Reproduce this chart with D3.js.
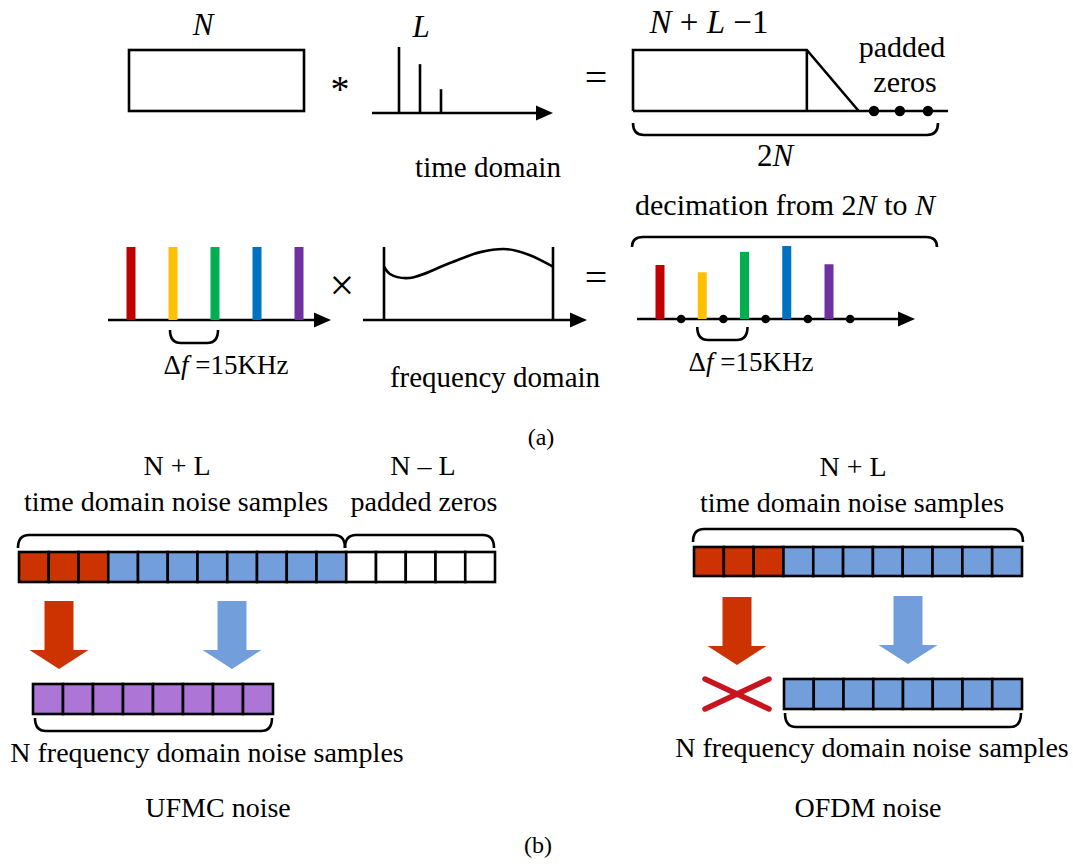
<!DOCTYPE html>
<html>
<head>
<meta charset="utf-8">
<script src="https://cdn.jsdelivr.net/npm/d3@7"></script>
<style>
  body { margin: 0; background: #fff; }
  svg { display: block; font-family: "Liberation Serif", "Times New Roman", serif; }
</style>
</head>
<body>
<svg id="fig" width="1073" height="868"></svg>
<script>
// filter taps (relative amplitude) in the time domain
const impulseTaps = [1.0, 0.74, 0.36];

// subcarriers
const subcarrierColors = ["#C00000", "#FFC000", "#00B050", "#0070C0", "#7030A0"];
const inputLevels = [1, 1, 1, 1, 1];
const outputLevels = [0.74, 0.64, 0.92, 1.0, 0.75];
const decimatedZeros = [0.5, 1.5, 2.5, 3.5, 4.5];

// filter frequency response: [position, gain]
const filterResponse = [
  [0, 0.73], [0.035, 0.63], [0.15, 0.575], [0.39, 0.78],
  [0.57, 0.93], [0.73, 0.97], [0.86, 0.89], [1, 0.73]
];

// convolution output, positions as fraction of 2N
const convolvedShape = [[0, 1], [0.57, 1], [0.74, 0]];
const paddedZeroDots = [0.79, 0.875, 0.967];

// noise sample blocks
const ufmcTimeCells = ["tail", "tail", "tail", "data", "data", "data", "data", "data",
  "data", "data", "data", "zero", "zero", "zero", "zero", "zero"];
const ufmcFreqCells = ["mixed", "mixed", "mixed", "mixed", "mixed", "mixed", "mixed", "mixed"];
const ofdmTimeCells = ["tail", "tail", "tail", "data", "data", "data", "data", "data",
  "data", "data", "data"];
const ofdmFreqCells = ["data", "data", "data", "data", "data", "data", "data", "data"];
const cellColors = { tail: "#CC3300", data: "#729FDC", zero: "#FFFFFF", mixed: "#AD75D6" };

const svg = d3.select("#fig");
svg.append("rect").attr("width", 1073).attr("height", 868).attr("fill", "#fff");

const SW = 2.6;

function axis(x1, x2, y, arrow) {
  svg.append("line").attr("x1", x1).attr("x2", arrow ? x2 - 14 : x2)
    .attr("y1", y).attr("y2", y).attr("stroke", "#000").attr("stroke-width", SW);
  if (arrow) {
    svg.append("path")
      .attr("d", `M${x2},${y} L${x2 - 17},${y - 7.5} L${x2 - 17},${y + 7.5} Z`)
      .attr("fill", "#000");
  }
}

// brace: straight part at yLine, ends bent to yEnd
function brace(x1, x2, yLine, yEnd) {
  const r = 11;
  svg.append("path")
    .attr("d", `M${x1},${yEnd} Q${x1},${yLine} ${x1 + r},${yLine} L${x2 - r},${yLine} Q${x2},${yLine} ${x2},${yEnd}`)
    .attr("fill", "none").attr("stroke", "#000").attr("stroke-width", SW);
}

function label(x, y, parts, size) {
  const t = svg.append("text").attr("x", x).attr("y", y)
    .attr("text-anchor", "middle").attr("font-size", size).attr("fill", "#000");
  parts.forEach(p => {
    const s = typeof p === "string" ? { t: p } : p;
    t.append("tspan").text(s.t).attr("font-style", s.i ? "italic" : null);
  });
  t.style("white-space", "pre");
  return t;
}

function cellRow(cells, x0, x1, y, h) {
  const band = d3.scaleBand(d3.range(cells.length), [x0, x1]);
  svg.append("g").selectAll("rect").data(cells).join("rect")
    .attr("x", (d, i) => band(i)).attr("y", y)
    .attr("width", band.bandwidth()).attr("height", h)
    .attr("fill", d => cellColors[d]).attr("stroke", "#000").attr("stroke-width", SW);
}

function blockArrow(cx, top, tip, color) {
  const sw = 14.5, hw = 29.5, hl = 19;
  svg.append("path")
    .attr("d", `M${cx - sw},${top} L${cx + sw},${top} L${cx + sw},${tip - hl} L${cx + hw},${tip - hl} L${cx},${tip} L${cx - hw},${tip - hl} L${cx - sw},${tip - hl} Z`)
    .attr("fill", color);
}

// ---------------- (a) time domain ----------------
svg.append("rect").attr("x", 129).attr("y", 50).attr("width", 175).attr("height", 61)
  .attr("fill", "none").attr("stroke", "#000").attr("stroke-width", SW);
label(203, 35, [{ t: "N", i: true }], 31);
label(340, 102, ["*"], 38);

const tapX = d3.scaleLinear([0, 2], [399, 441]);
const tapY = d3.scaleLinear([0, 1], [113, 47]);
axis(372, 553, 113, true);
svg.append("g").selectAll("line").data(impulseTaps).join("line")
  .attr("x1", (d, i) => tapX(i)).attr("x2", (d, i) => tapX(i))
  .attr("y1", tapY(0)).attr("y2", d => tapY(d))
  .attr("stroke", "#000").attr("stroke-width", SW);
label(421, 37, [{ t: "L", i: true }], 31);
label(488, 177, ["time domain"], 29);

label(596, 91, ["="], 40);

const convX = d3.scaleLinear([0, 1], [633, 938]);
const convY = d3.scaleLinear([0, 1], [111, 50]);
const convLine = d3.line().x(d => convX(d[0])).y(d => convY(d[1]));
svg.append("path")
  .attr("d", convLine([[0, 0], [0, 1]].concat(convolvedShape)))
  .attr("fill", "none").attr("stroke", "#000").attr("stroke-width", SW).attr("stroke-linejoin", "miter");
svg.append("line").attr("x1", convX(convolvedShape[1][0])).attr("x2", convX(convolvedShape[1][0]))
  .attr("y1", convY(1)).attr("y2", convY(0)).attr("stroke", "#000").attr("stroke-width", SW);
axis(convX(0), convX(1.033), convY(0), false);
svg.append("g").selectAll("circle").data(paddedZeroDots).join("circle")
  .attr("cx", d => convX(d)).attr("cy", convY(0)).attr("r", 5.2).attr("fill", "#000");
label(709, 33, [{ t: "N", i: true }, " + ", { t: "L", i: true }, " \u22121"], 33);
label(902, 57, ["padded"], 30);
label(905, 92, ["zeros"], 30);
brace(633, 938, 135, 123);
label(775, 166, ["2", { t: "N", i: true }], 31);

// ---------------- (a) frequency domain ----------------
const inX = d3.scaleLinear([0, 4], [131, 299]);
const specY = d3.scaleLinear([0, 1], [320, 247]);
axis(108, 331, 320, true);
svg.append("g").selectAll("rect").data(inputLevels).join("rect")
  .attr("x", (d, i) => inX(i) - 4.5).attr("width", 9)
  .attr("y", d => specY(d)).attr("height", d => specY(0) - specY(d))
  .attr("fill", (d, i) => subcarrierColors[i]);
brace(inX(1) - 3, inX(2) + 3, 343, 330);
label(226, 374, ["\u0394", { t: "f", i: true }, " =15KHz"], 27);

label(342, 300, ["\u00d7"], 44);

const filtX = d3.scaleLinear([0, 1], [384, 553]);
axis(363, 587, 320, true);
[0, 1].forEach(f => {
  svg.append("line").attr("x1", filtX(f)).attr("x2", filtX(f))
    .attr("y1", specY(0)).attr("y2", specY(1))
    .attr("stroke", "#000").attr("stroke-width", SW);
});
svg.append("path")
  .attr("d", d3.line().x(d => filtX(d[0])).y(d => specY(d[1])).curve(d3.curveCatmullRom)(filterResponse))
  .attr("fill", "none").attr("stroke", "#000").attr("stroke-width", SW);
label(495, 387, ["frequency domain"], 29);

label(596, 291, ["="], 40);

const outX = d3.scaleLinear([0, 4], [660, 829]);
const outY = d3.scaleLinear([0, 1], [319, 246]);
label(785, 215, ["decimation from 2", { t: "N", i: true }, " to ", { t: "N", i: true }], 30);
brace(632, 937, 237, 247);
axis(637, 915, 319, true);
svg.append("g").selectAll("rect").data(outputLevels).join("rect")
  .attr("x", (d, i) => outX(i) - 4.5).attr("width", 9)
  .attr("y", d => outY(d)).attr("height", d => outY(0) - outY(d))
  .attr("fill", (d, i) => subcarrierColors[i]);
svg.append("g").selectAll("circle").data(decimatedZeros).join("circle")
  .attr("cx", d => outX(d)).attr("cy", outY(0)).attr("r", 4.3).attr("fill", "#000");
brace(outX(1) - 5, outX(2) + 3, 340, 327);
label(751, 371, ["\u0394", { t: "f", i: true }, " =15KHz"], 27);

label(541, 445, ["(a)"], 24);

// ---------------- (b) UFMC noise ----------------
label(177, 475, ["N + L"], 28);
label(176, 511, ["time domain noise samples"], 28);
label(423, 475, ["N \u2013 L"], 28);
label(424, 511, ["padded zeros"], 28);
brace(18, 345, 535, 548);
brace(345, 494, 535, 548);
cellRow(ufmcTimeCells, 19, 495, 552, 30);
blockArrow(59, 601, 669, cellColors.tail);
blockArrow(232, 601, 669, cellColors.data);
cellRow(ufmcFreqCells, 33, 273, 684, 30);
brace(35, 272, 731, 718);
label(207, 762, ["N frequency domain noise samples"], 28);
label(218, 817, ["UFMC noise"], 28);

// ---------------- (b) OFDM noise ----------------
label(853, 476, ["N + L"], 28);
label(852, 512, ["time domain noise samples"], 28);
brace(693, 1023, 529, 542);
cellRow(ofdmTimeCells, 694, 1022, 547, 29);
blockArrow(737, 597, 665, cellColors.tail);
blockArrow(908, 596, 664, cellColors.data);
[[705, 679, 769, 709], [705, 709, 769, 679]].forEach(([a, b, c, d]) => {
  svg.append("line").attr("x1", a).attr("y1", b).attr("x2", c).attr("y2", d)
    .attr("stroke", "#C8141E").attr("stroke-width", 5.5).attr("stroke-linecap", "round");
});
cellRow(ofdmFreqCells, 784, 1022, 679, 30);
brace(785, 1021, 727, 713);
label(872, 757, ["N frequency domain noise samples"], 28);
label(868, 817, ["OFDM noise"], 28);

label(538, 853, ["(b)"], 24);
</script>
</body>
</html>
